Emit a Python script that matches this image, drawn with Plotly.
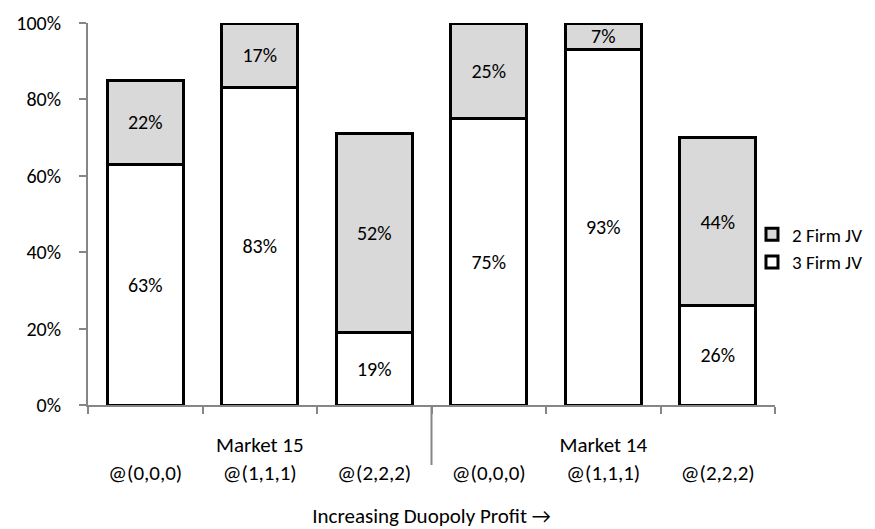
import plotly.graph_objects as go

categories = ["m15_000", "m15_111", "m15_222", "m14_000", "m14_111", "m14_222"]
tick_labels = [" <br>@(0,0,0)", "Market 15<br>@(1,1,1)", " <br>@(2,2,2)",
               " <br>@(0,0,0)", "Market 14<br>@(1,1,1)", " <br>@(2,2,2)"]
three_firm = [0.63, 0.83, 0.19, 0.75, 0.93, 0.26]
two_firm = [0.22, 0.17, 0.52, 0.25, 0.07, 0.44]

FONT = "Carlito, Lato, sans-serif"
AXIS_GRAY = "#868686"

fig = go.Figure()
fig.add_trace(go.Bar(
    x=categories, y=three_firm, name="3 Firm JV",
    marker=dict(color="white", line=dict(color="black", width=3)),
    texttemplate="%{y:.0%}", textposition="inside",
    insidetextanchor="middle", textangle=0, constraintext="none",
    textfont=dict(color="black", size=20, family=FONT),
))
fig.add_trace(go.Bar(
    x=categories, y=two_firm, name="2 Firm JV",
    marker=dict(color="#d9d9d9", line=dict(color="black", width=3)),
    texttemplate="%{y:.0%}", textposition="inside",
    insidetextanchor="middle", textangle=0, constraintext="none",
    textfont=dict(color="black", size=20, family=FONT),
))

fig.update_layout(
    width=867, height=521,
    barmode="stack", bargap=0.34,
    plot_bgcolor="white", paper_bgcolor="white",
    margin=dict(l=80, r=100, t=15, b=124, autoexpand=False),
    font=dict(family=FONT, size=20, color="black"),
    showlegend=True,
    legend=dict(x=0.9665, xanchor="left", y=0.41, yanchor="middle",
                traceorder="reversed", font=dict(size=19, family=FONT),
                itemwidth=30, tracegroupgap=0, bgcolor="rgba(0,0,0,0)"),
    shapes=[dict(type="line", xref="x", yref="paper", x0=2.5, x1=2.5,
                 y0=0, y1=-0.157, line=dict(color=AXIS_GRAY, width=2))],
)
fig.update_xaxes(
    type="category", tickmode="array", tickvals=categories, ticktext=tick_labels,
    tickson="boundaries", ticks="outside", ticklen=7, tickcolor=AXIS_GRAY, tickwidth=2,
    showline=True, linecolor=AXIS_GRAY, linewidth=2, showgrid=False, automargin=False,
    tickfont=dict(size=21, family=FONT), ticklabelstandoff=20,
    title=dict(text="Increasing Duopoly Profit →", font=dict(size=21, family=FONT), standoff=26),
)
fig.update_yaxes(
    range=[0, 1], tickformat=".0%", dtick=0.2, tick0=0,
    ticks="outside", ticklen=7, tickcolor=AXIS_GRAY, tickwidth=2,
    showline=True, linecolor=AXIS_GRAY, linewidth=2, showgrid=False, zeroline=False,
    automargin=False, tickfont=dict(size=20, family=FONT), ticklabelstandoff=14,
)

fig.write_html("out.html")
